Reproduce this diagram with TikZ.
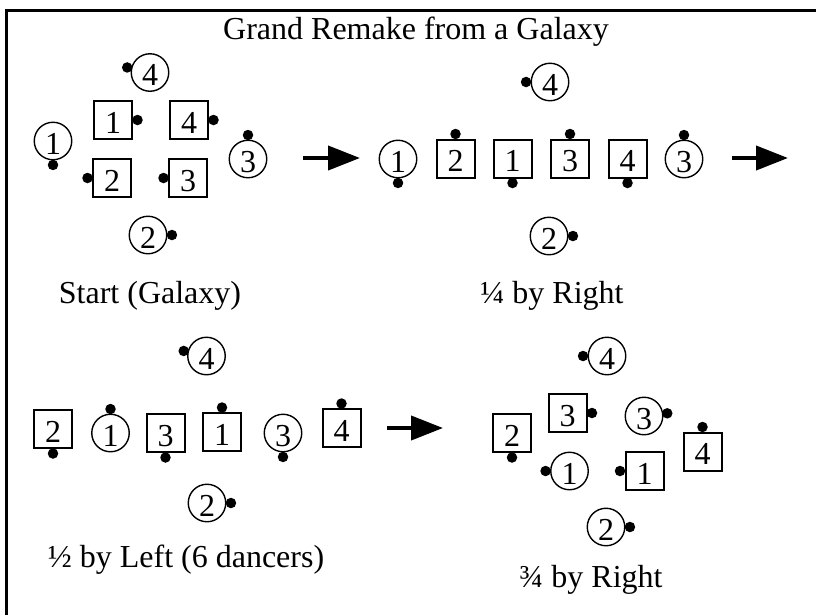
\documentclass[tikz,border=0pt]{standalone}
\usepackage{fontspec}
\setmainfont{Liberation Serif}
\usetikzlibrary{arrows.meta}
\pgfdeclarelayer{background}
\pgfsetlayers{background,main}
\tikzset{
  dancer/.style={draw, fill=white, inner sep=0pt, text height=26pt, text depth=0pt, font=\fontsize{32}{36}\selectfont},
  crc/.style={dancer, circle, minimum size=37.5pt, line width=1.4pt},
  sqr/.style={dancer, rectangle, minimum size=38pt, line width=2pt},
  dotn/.style={circle, fill=black, inner sep=0pt, minimum size=10.5pt},
  lbl/.style={anchor=base, font=\fontsize{32}{36}\selectfont, inner sep=0pt},
  arr/.style={line width=4pt, -{Triangle[length=32pt,width=24pt]}},
  frame/.style={line width=3pt},
}
\begin{document}
\begin{tikzpicture}[x=1pt, y=-1pt]
\useasboundingbox (0,0) rectangle (816,614);
% frame
\coordinate (f1) at (6.5,620);
\coordinate (f2) at (6.5,10.5);
\coordinate (f3) at (822,10.5);
\draw[frame] (f1) -- (f2) -- (f3);
% title and labels
\node[lbl] (title) at (416,39) {Grand Remake from a Galaxy};
\node[lbl] (l1) at (150,303) {Start (Galaxy)};
\node[lbl] (l2) at (552,303) {¼ by Right};
\node[lbl] (l3) at (186,567) {½ by Left (6 dancers)};
\node[lbl] (l4) at (591,587) {¾ by Right};
% group 1
\node[crc] (a4) at (150,72.5) {4};
\node[sqr] (A1) at (113,120) {1};
\node[sqr] (A4) at (189,120) {4};
\node[sqr] (A2) at (112,178) {2};
\node[sqr] (A3) at (188,178) {3};
\node[crc] (a1) at (53,141) {1};
\node[crc] (a3) at (248,159) {3};
\node[crc] (a2) at (148,235) {2};
% group 2
\node[crc] (b1) at (398,159) {1};
\node[sqr] (B2) at (455.5,158.5) {2};
\node[sqr] (B1) at (512.5,158.5) {1};
\node[sqr] (B3) at (570,158.5) {3};
\node[sqr] (B4) at (627.5,158.5) {4};
\node[crc] (b3) at (684,159) {3};
\node[crc] (b4) at (550,82) {4};
\node[crc] (b2) at (549,236) {2};
% group 3
\node[crc] (c4) at (206.5,356) {4};
\node[sqr] (C2) at (53,429) {2};
\node[crc] (c1) at (110.5,433) {1};
\node[sqr] (C3) at (165.5,433) {3};
\node[sqr] (C1) at (222,432) {1};
\node[crc] (c3) at (283,433) {3};
\node[sqr] (C4) at (341.5,428) {4};
\node[crc] (c2) at (207,503) {2};
% group 4
\node[crc] (d4) at (607,356) {4};
\node[sqr] (D3) at (567.5,413) {3};
\node[crc] (d3) at (644,416) {3};
\node[sqr] (D2) at (512,433) {2};
\node[sqr] (D4) at (702.5,451.5) {4};
\node[crc] (d1) at (569.5,471) {1};
\node[sqr] (D1) at (644.5,471) {1};
\node[crc] (d2) at (606,527) {2};
% dots (noses)
\begin{pgfonlayer}{background}
\node[dotn] (na4) at ([xshift=-4pt]a4.165) {};
\node[dotn] (nA1) at ([xshift=4.5pt]A1.east) {};
\node[dotn] (nA4) at ([xshift=4.5pt]A4.east) {};
\node[dotn] (nA2) at ([xshift=-4.5pt]A2.west) {};
\node[dotn] (nA3) at ([xshift=-4.5pt]A3.west) {};
\node[dotn] (na1) at ([yshift=-4.5pt]a1.south) {};
\node[dotn] (na3) at ([yshift=4.5pt]a3.north) {};
\node[dotn] (na2) at ([xshift=4.5pt]a2.east) {};
\node[dotn] (nb1) at ([yshift=-4.5pt]b1.south) {};
\node[dotn] (nB2) at ([yshift=4.5pt]B2.north) {};
\node[dotn] (nB1) at ([yshift=-4.5pt]B1.south) {};
\node[dotn] (nB3) at ([yshift=4.5pt]B3.north) {};
\node[dotn] (nB4) at ([yshift=-4.5pt]B4.south) {};
\node[dotn] (nb3) at ([yshift=4.5pt]b3.north) {};
\node[dotn] (nb4) at ([xshift=-4.5pt]b4.west) {};
\node[dotn] (nb2) at ([xshift=4.5pt]b2.east) {};
\node[dotn] (nc4) at ([xshift=-4pt]c4.165) {};
\node[dotn] (nC2) at ([yshift=-4.5pt]C2.south) {};
\node[dotn] (nc1) at ([yshift=4.5pt]c1.north) {};
\node[dotn] (nC3) at ([yshift=-4.5pt]C3.south) {};
\node[dotn] (nC1) at ([yshift=4.5pt]C1.north) {};
\node[dotn] (nc3) at ([yshift=-4.5pt]c3.south) {};
\node[dotn] (nC4) at ([yshift=4.5pt]C4.north) {};
\node[dotn] (nc2) at ([xshift=4.5pt]c2.east) {};
\node[dotn] (nd4) at ([xshift=-4.5pt]d4.west) {};
\node[dotn] (nD3) at ([xshift=4.5pt]D3.east) {};
\node[dotn] (nd3) at ([xshift=4pt]d3.8) {};
\node[dotn] (nD2) at ([yshift=-4.5pt]D2.south) {};
\node[dotn] (nD4) at ([yshift=4.5pt]D4.north) {};
\node[dotn] (nd1) at ([xshift=-4.5pt]d1.west) {};
\node[dotn] (nD1) at ([xshift=-4.5pt]D1.west) {};
\node[dotn] (nd2) at ([xshift=4.5pt]d2.east) {};
\end{pgfonlayer}
% arrows
\coordinate (r1s) at (303,158);
\coordinate (r1e) at (360,158);
\coordinate (r2s) at (732,158);
\coordinate (r2e) at (788,158);
\coordinate (r3s) at (387,428);
\coordinate (r3e) at (443,428);
\draw[arr] (r1s) -- (r1e);
\draw[arr] (r2s) -- (r2e);
\draw[arr] (r3s) -- (r3e);
\end{tikzpicture}
\end{document}
